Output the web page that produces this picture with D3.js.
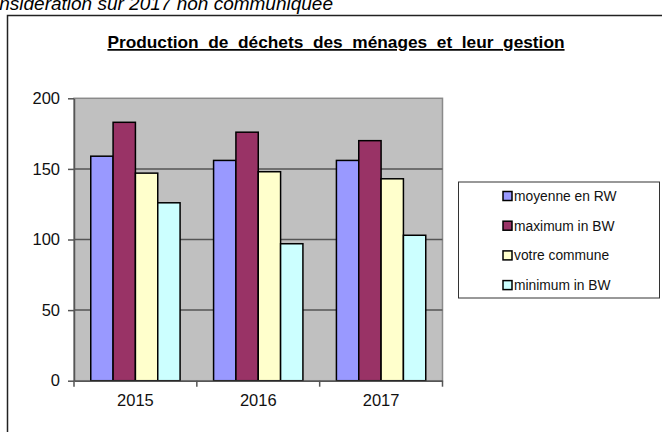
<!DOCTYPE html>
<html>
<head>
<meta charset="utf-8">
<script src="https://cdn.jsdelivr.net/npm/d3@7"></script>
<style>
  body { margin: 0; background: #fff; }
  svg { display: block; font-family: "Liberation Sans", Arial, sans-serif; }
</style>
</head>
<body>
<svg id="drawing_region"></svg>
<script>
// data
const years = ["2015", "2016", "2017"];
const seriesNames = ["moyenne en RW", "maximum in BW", "votre commune", "minimum in BW"];
const moyenneRW = [159, 156, 156];
const maximumBW = [183, 176, 170];
const votreCommune = [147, 148, 143];
const minimumBW = [126, 97, 103];
const yTicks = [0, 50, 100, 150, 200];
const colors = ["#9999ff", "#993366", "#ffffcc", "#ccffff"];

const seriesValues = [moyenneRW, maximumBW, votreCommune, minimumBW];
const data = years.map((y, i) => ({
    year: y,
    values: seriesNames.map((s, j) => ({ name: s, value: seriesValues[j][i] }))
}));

const width = 662, height = 432;
const plot = { left: 74, right: 442.5, top: 98.3, bottom: 380.7 };

const svg = d3.select('#drawing_region')
    .attr('width', width)
    .attr('height', height);

// text cut off at the top of the picture
svg.append('text')
    .attr('x', 333)
    .attr('y', 10)
    .attr('text-anchor', 'end')
    .attr('font-size', '19px')
    .attr('font-style', 'italic')
    .attr('fill', '#000')
    .text('considération sur 2017 non communiquée');

// outer frame (only top and left visible)
svg.append('path')
    .attr('d', `M7.5,${height} V15.5 H${width}`)
    .attr('fill', 'none')
    .attr('stroke', '#222')
    .attr('stroke-width', 1.5);

// title
svg.append('text')
    .attr('x', 336)
    .attr('y', 48)
    .attr('text-anchor', 'middle')
    .attr('font-size', '17.3px')
    .attr('font-weight', 'bold')
    .attr('text-decoration', 'underline')
    .style('white-space', 'pre')
    .text('Production  de  déchets  des  ménages  et  leur  gestion');

const xscale = d3.scaleBand()
    .domain(years)
    .range([plot.left, plot.right])
    .padding(0);

const inner = d3.scaleBand()
    .domain(seriesNames)
    .range([0, xscale.bandwidth()])
    .paddingInner(0)
    .paddingOuter(0.75);

const yscale = d3.scaleLinear()
    .domain([0, 200])
    .range([plot.bottom, plot.top]);

// plot background
svg.append('rect')
    .attr('x', plot.left)
    .attr('y', plot.top)
    .attr('width', plot.right - plot.left)
    .attr('height', plot.bottom - plot.top)
    .attr('fill', '#c0c0c0')
    .attr('stroke', '#8a8a8a')
    .attr('stroke-width', 1.5);

// gridlines
svg.append('g')
    .selectAll('line')
    .data(yTicks.filter(d => d > 0 && d < 200))
    .enter()
    .append('line')
    .attr('x1', plot.left)
    .attr('x2', plot.right)
    .attr('y1', d => yscale(d))
    .attr('y2', d => yscale(d))
    .attr('stroke', '#555')
    .attr('stroke-width', 1.5);

// bars
const groups = svg.append('g')
    .selectAll('g')
    .data(data)
    .enter()
    .append('g')
    .attr('transform', d => `translate(${xscale(d.year)},0)`);

groups.selectAll('rect')
    .data(d => d.values)
    .enter()
    .append('rect')
    .attr('x', d => inner(d.name))
    .attr('y', d => yscale(d.value))
    .attr('width', inner.bandwidth())
    .attr('height', d => yscale(0) - yscale(d.value))
    .attr('fill', (d, i) => colors[i])
    .attr('stroke', '#000')
    .attr('stroke-width', 1.5);

// axes
const yaxis = d3.axisLeft(yscale)
    .tickValues(yTicks)
    .tickSizeInner(6)
    .tickSizeOuter(0)
    .tickPadding(8);

svg.append('g')
    .attr('transform', `translate(${plot.left},0)`)
    .call(yaxis)
    .call(g => {
        g.select('.domain').attr('stroke', '#555').attr('stroke-width', 1.5);
        g.selectAll('.tick line').attr('stroke', '#555').attr('stroke-width', 1.5);
        g.selectAll('.tick text')
            .attr('font-size', '16.5px')
            .attr('font-family', '"Liberation Sans", Arial, sans-serif')
            .attr('fill', '#111');
    });

const xaxis = d3.axisBottom(xscale)
    .tickSize(0)
    .tickPadding(14);

svg.append('g')
    .attr('transform', `translate(0,${plot.bottom})`)
    .call(xaxis)
    .call(g => {
        g.select('.domain').attr('stroke', '#555').attr('stroke-width', 1.5);
        g.selectAll('.tick text')
            .attr('font-size', '16.5px')
            .attr('font-family', '"Liberation Sans", Arial, sans-serif')
            .attr('fill', '#111');
    });

// category separator ticks
svg.append('g')
    .selectAll('line')
    .data(years.concat(['end']))
    .enter()
    .append('line')
    .attr('x1', (d, i) => i < years.length ? xscale(d) : plot.right)
    .attr('x2', (d, i) => i < years.length ? xscale(d) : plot.right)
    .attr('y1', plot.bottom)
    .attr('y2', plot.bottom + 6)
    .attr('stroke', '#555')
    .attr('stroke-width', 1.5);

// legend
const legend = svg.append('g');
legend.append('rect')
    .attr('x', 458.5)
    .attr('y', 182)
    .attr('width', 201)
    .attr('height', 116)
    .attr('fill', '#fff')
    .attr('stroke', '#333')
    .attr('stroke-width', 1);

const items = legend.selectAll('g.item')
    .data(seriesNames)
    .enter()
    .append('g')
    .attr('class', 'item')
    .attr('transform', (d, i) => `translate(503, ${196 + i * 29.7})`);

items.append('rect')
    .attr('x', 0)
    .attr('y', -4.5)
    .attr('width', 9)
    .attr('height', 9)
    .attr('fill', (d, i) => colors[i])
    .attr('stroke', '#000')
    .attr('stroke-width', 1.5);

items.append('text')
    .attr('x', 11)
    .attr('y', 0)
    .attr('dy', '0.35em')
    .attr('font-size', '13.8px')
    .attr('fill', '#111')
    .text(d => d);
</script>
</body>
</html>
